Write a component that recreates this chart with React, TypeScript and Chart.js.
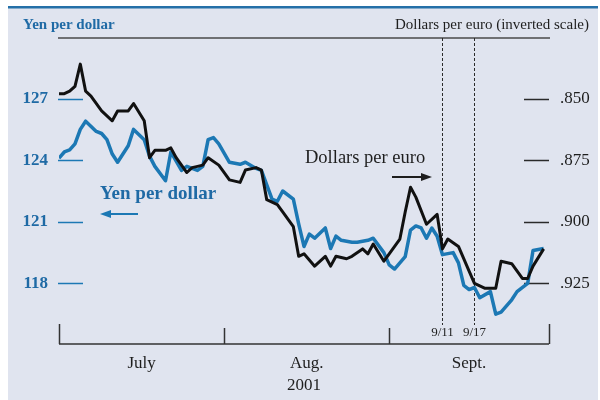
import React, { useEffect, useRef } from "react";
import { Chart, registerables } from "chart.js";

Chart.register(...registerables);

// Days counted from July 1, 2001 (0 = July 1)
const yenDays = [0, 1, 2, 3, 4, 5, 7, 8, 9, 10, 11, 13, 14, 16, 17, 18, 20, 21, 23, 24, 26, 27, 28, 29, 30, 32, 34, 35, 37, 38, 40, 41, 42, 44, 45, 46, 47, 48, 50, 51, 52, 53, 55, 56, 58, 59, 61, 62, 63, 65, 66, 67, 68, 69, 70, 71, 72, 74, 75, 76, 77, 78, 79, 81, 82, 83, 85, 86, 88, 89, 91];
const yenPerDollar = [124.1, 124.4, 124.5, 124.8, 125.5, 125.9, 125.4, 125.3, 125.0, 124.3, 123.9, 124.7, 125.5, 125.0, 124.2, 123.7, 123.0, 124.4, 123.5, 123.7, 123.5, 123.7, 125.0, 125.1, 124.8, 123.9, 123.8, 123.9, 123.6, 123.5, 122.1, 122.0, 122.5, 122.1, 120.9, 119.8, 120.4, 120.2, 120.7, 119.7, 120.3, 120.1, 120.0, 120.0, 120.1, 120.2, 119.5, 118.9, 118.7, 119.3, 120.6, 120.8, 120.7, 120.2, 120.7, 120.3, 119.4, 119.5, 119.0, 117.9, 117.7, 117.8, 117.3, 117.6, 116.5, 116.6, 117.2, 117.6, 118.0, 119.6, 119.7];

const euroDays = [0, 1, 2, 3, 4, 5, 6, 8, 10, 11, 13, 14, 16, 17, 18, 20, 21, 22, 24, 25, 27, 28, 30, 32, 34, 35, 37, 38, 39, 41, 42, 44, 45, 46, 48, 50, 51, 52, 54, 55, 57, 58, 59, 61, 62, 64, 65, 66, 67, 69, 71, 72, 73, 75, 77, 78, 80, 82, 83, 85, 87, 88, 89, 91];
const dollarsPerEuro = [0.848, 0.848, 0.847, 0.845, 0.836, 0.847, 0.849, 0.855, 0.859, 0.855, 0.855, 0.852, 0.859, 0.874, 0.871, 0.871, 0.870, 0.874, 0.880, 0.878, 0.877, 0.874, 0.877, 0.883, 0.884, 0.879, 0.878, 0.879, 0.891, 0.893, 0.896, 0.902, 0.914, 0.913, 0.918, 0.914, 0.918, 0.914, 0.915, 0.914, 0.911, 0.913, 0.909, 0.916, 0.913, 0.907, 0.896, 0.886, 0.890, 0.901, 0.897, 0.911, 0.907, 0.910, 0.920, 0.925, 0.927, 0.927, 0.916, 0.917, 0.923, 0.923, 0.918, 0.911];

const yenTicks = [118, 121, 124, 127];
const euroTicks = [0.85, 0.875, 0.9, 0.925];
const monthLabels = ["July", "Aug.", "Sept."];
const monthCenters = [15.5, 46.5, 77];
const monthBoundaries = [0, 31, 62, 92];
const eventDays = [72, 78];
const eventLabels = ["9/11", "9/17"];
const yearLabel = "2001";

const BLUE_LINE = "#1c78b4";
const BLUE_TEXT = "#1f6aa5";
const DARK = "#1e1e1e";
const BG = "#e0e4ef";
const SERIF = "'Liberation Serif', 'Times New Roman', serif";

const decor = {
  id: "decor",
  beforeDraw(chart: any) {
    const ctx = chart.ctx;
    ctx.save();
    ctx.fillStyle = "#ffffff";
    ctx.fillRect(0, 0, chart.width, chart.height);
    ctx.fillStyle = BG;
    ctx.fillRect(8, 8, 590, 392);
    ctx.fillStyle = "#2470a8";
    ctx.fillRect(8, 6, 590, 2.5);
    ctx.restore();
  },
  beforeDatasetsDraw(chart: any) {
    const ctx = chart.ctx;
    const { left, right, top, bottom } = chart.chartArea;
    const x = chart.scales.x;
    const y = chart.scales.y;
    const y2 = chart.scales.y2;
    ctx.save();
    // top rule
    ctx.strokeStyle = "#4a4a4a";
    ctx.lineWidth = 1.5;
    ctx.beginPath();
    ctx.moveTo(left - 1, top + 1);
    ctx.lineTo(right + 1, top + 1);
    ctx.stroke();
    // left tick marks
    ctx.strokeStyle = BLUE_LINE;
    ctx.lineWidth = 1.5;
    yenTicks.forEach((v) => {
      const py = Math.round(y.getPixelForValue(v)) + 0.5;
      ctx.beginPath();
      ctx.moveTo(left - 1, py);
      ctx.lineTo(left + 24, py);
      ctx.stroke();
    });
    // right tick marks
    ctx.strokeStyle = "#2a2a2a";
    euroTicks.forEach((v) => {
      const py = Math.round(y2.getPixelForValue(v)) + 0.5;
      ctx.beginPath();
      ctx.moveTo(right - 25, py);
      ctx.lineTo(right, py);
      ctx.stroke();
    });
    // dashed event lines
    ctx.strokeStyle = "#2a2a2a";
    ctx.lineWidth = 1;
    ctx.setLineDash([3, 2]);
    eventDays.forEach((d) => {
      const px = Math.round(x.getPixelForValue(d)) + 0.5;
      ctx.beginPath();
      ctx.moveTo(px, top + 1);
      ctx.lineTo(px, bottom - 20);
      ctx.stroke();
    });
    ctx.setLineDash([]);
    ctx.fillStyle = DARK;
    ctx.font = `13px ${SERIF}`;
    ctx.textAlign = "center";
    ctx.textBaseline = "middle";
    eventDays.forEach((d, i) => {
      ctx.fillText(eventLabels[i], x.getPixelForValue(d), bottom - 12);
    });
    // x axis line and ticks
    ctx.strokeStyle = "#333333";
    ctx.lineWidth = 1.5;
    ctx.beginPath();
    ctx.moveTo(x.getPixelForValue(monthBoundaries[0]), bottom - 1);
    ctx.lineTo(x.getPixelForValue(monthBoundaries[monthBoundaries.length - 1]), bottom - 1);
    ctx.stroke();
    monthBoundaries.forEach((d, i) => {
      const px = Math.round(x.getPixelForValue(d)) + 0.5;
      const len = i === 0 || i === monthBoundaries.length - 1 ? 20 : 16;
      ctx.beginPath();
      ctx.moveTo(px, bottom - 1);
      ctx.lineTo(px, bottom - 1 - len);
      ctx.stroke();
    });
    ctx.restore();
  },
  afterDatasetsDraw(chart: any) {
    const ctx = chart.ctx;
    ctx.save();
    // headers
    ctx.textBaseline = "alphabetic";
    ctx.fillStyle = BLUE_TEXT;
    ctx.font = `bold 15px ${SERIF}`;
    ctx.textAlign = "left";
    ctx.fillText("Yen per dollar", 23, 29);
    ctx.fillStyle = DARK;
    ctx.font = `15px ${SERIF}`;
    ctx.textAlign = "right";
    ctx.fillText("Dollars per euro (inverted scale)", 589, 29);

    // in-chart labels
    ctx.textBaseline = "middle";
    ctx.textAlign = "left";
    ctx.fillStyle = BLUE_TEXT;
    ctx.font = `bold 19px ${SERIF}`;
    ctx.fillText("Yen per dollar", 100, 194);
    ctx.fillStyle = DARK;
    ctx.font = `18.5px ${SERIF}`;
    ctx.fillText("Dollars per euro", 305, 158);

    // arrows
    const arrow = (x1: number, x2: number, yy: number, color: string) => {
      ctx.strokeStyle = color;
      ctx.fillStyle = color;
      ctx.lineWidth = 2;
      ctx.beginPath();
      const dir = Math.sign(x2 - x1);
      ctx.moveTo(x1, yy);
      ctx.lineTo(x2 - dir * 8, yy);
      ctx.stroke();
      ctx.beginPath();
      ctx.moveTo(x2, yy);
      ctx.lineTo(x2 - dir * 11, yy - 4);
      ctx.lineTo(x2 - dir * 11, yy + 4);
      ctx.closePath();
      ctx.fill();
    };
    arrow(138, 100, 214, BLUE_LINE);
    arrow(392, 432, 177, DARK);
    ctx.restore();
  },
};

export default function App() {
  const ref = useRef<HTMLCanvasElement | null>(null);
  useEffect(() => {
    if (!ref.current) return;
    const chart = new Chart(ref.current, {
      type: "line",
      data: {
        datasets: [
          {
            label: "Dollars per euro",
            data: euroDays.map((d, i) => ({ x: d, y: dollarsPerEuro[i] })),
            yAxisID: "y2",
            borderColor: "#111111",
            borderWidth: 3,
            pointRadius: 0,
            tension: 0,
            borderJoinStyle: "round",
            fill: false,
          },
          {
            label: "Yen per dollar",
            data: yenDays.map((d, i) => ({ x: d, y: yenPerDollar[i] })),
            yAxisID: "y",
            borderColor: BLUE_LINE,
            borderWidth: 3.5,
            pointRadius: 0,
            tension: 0,
            borderJoinStyle: "round",
            fill: false,
          },
        ],
      },
      options: {
        responsive: false,
        animation: false,
        devicePixelRatio: 1,
        layout: { padding: { top: 37, left: 0, right: 0, bottom: 0 } },
        plugins: { legend: { display: false }, tooltip: { enabled: false } },
        scales: {
          x: {
            type: "linear",
            position: "bottom",
            min: monthBoundaries[0],
            max: monthBoundaries[monthBoundaries.length - 1],
            grid: { display: false, drawTicks: false },
            border: { display: false },
            afterBuildTicks: (axis: any) => {
              axis.ticks = monthCenters.map((value) => ({ value }));
            },
            afterFit: (s: any) => {
              s.height = 55;
            },
            ticks: {
              autoSkip: false,
              maxRotation: 0,
              padding: 8,
              color: DARK,
              font: { family: SERIF, size: 17 },
              callback: (_v: any, i: number) => monthLabels[i],
            },
            title: {
              display: true,
              text: yearLabel,
              color: DARK,
              font: { family: SERIF, size: 17 },
              padding: { top: 0, bottom: 4 },
            },
          },
          y: {
            type: "linear",
            position: "left",
            min: 115,
            max: 130,
            grid: { display: false, drawTicks: false },
            border: { display: false },
            afterBuildTicks: (axis: any) => {
              axis.ticks = yenTicks.map((value) => ({ value }));
            },
            afterFit: (s: any) => {
              s.width = 59;
            },
            ticks: {
              padding: 11,
              color: BLUE_TEXT,
              font: { family: SERIF, size: 17, weight: "bold" },
              callback: (v: any) => String(v),
            },
          },
          y2: {
            type: "linear",
            position: "right",
            reverse: true,
            min: 0.825,
            max: 0.95,
            grid: { display: false, drawTicks: false },
            border: { display: false },
            afterBuildTicks: (axis: any) => {
              axis.ticks = euroTicks.map((value) => ({ value }));
            },
            afterFit: (s: any) => {
              s.width = 51;
            },
            ticks: {
              padding: 11,
              color: DARK,
              font: { family: SERIF, size: 17 },
              callback: (v: any) => Number(v).toFixed(3).replace(/^0/, ""),
            },
          },
        },
      },
      plugins: [decor],
    } as any);
    return () => chart.destroy();
  }, []);

  return (
    <div style={{ position: "fixed", left: 0, top: 0, width: 600, height: 400 }}>
      <canvas ref={ref} width={600} height={400} style={{ width: 600, height: 400, display: "block" }} />
    </div>
  );
}
